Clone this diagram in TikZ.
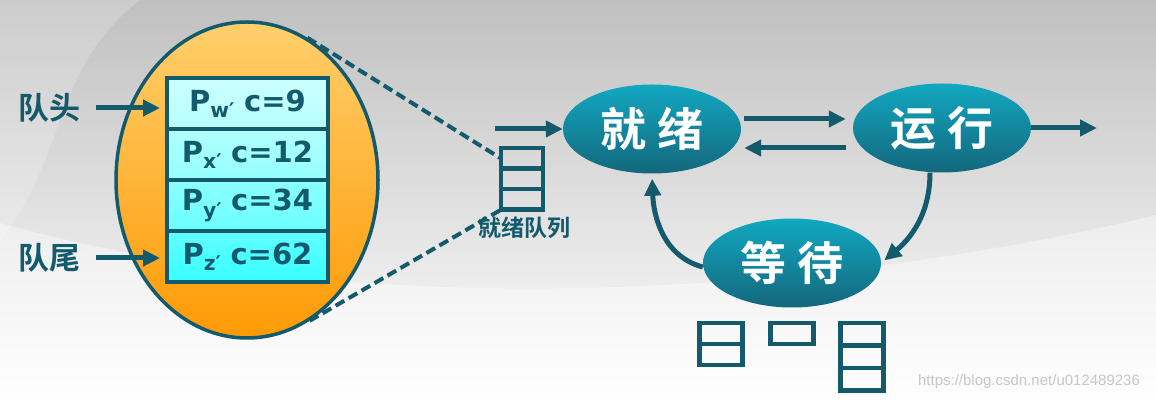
\documentclass[tikz,border=0pt]{standalone}
\usepackage{fontspec}
\setmainfont{DejaVu Sans}
\newfontfamily\cjk{Noto Sans CJK SC Bold}
\newfontfamily\urlfont{Liberation Sans}
\usetikzlibrary{arrows.meta, positioning, shapes.geometric}

\definecolor{qline}{HTML}{135B6C}
\definecolor{stateTop}{HTML}{12A8C1}
\definecolor{stateBot}{HTML}{13677C}
\definecolor{poolTop}{HTML}{FFCF6C}
\definecolor{poolBot}{HTML}{FF9A05}
\definecolor{bgTop}{HTML}{C0C0C0}

\tikzset{
  state/.style={ellipse, top color=stateTop, bottom color=stateBot, minimum width=178, minimum height=89, inner sep=0, text=white, font=\cjk\fontsize{46}{46}\selectfont},
  slot/.style={rectangle, draw=qline, line width=4.5, minimum width=161, minimum height=51, inner sep=0, outer sep=0, text=qline, font=\bfseries\fontsize{29}{29}\selectfont},
  cell/.style={rectangle, draw=qline, line width=4.5, minimum width=43, minimum height=21, inner sep=0, outer sep=0},
  flow/.style={draw=qline, line width=5, -{Triangle[length=17, width=16]}},
  tag/.style={text=qline, font=\cjk\fontsize{31}{31}\selectfont},
}

\begin{document}
\begin{tikzpicture}[x=1pt, y=1pt]
  \useasboundingbox (0,0) rectangle (1156,401);
  % background
  \shade[top color=bgTop, bottom color=white] (0,0) rectangle (1156,401);
  \fill[white, opacity=0.4] (0,178) .. controls (350,80) and (800,100) .. (1156,186) -- (1156,0) -- (0,0) -- cycle;
  \fill[white, opacity=0.2] (0,401) -- (140,401) .. controls (50,330) and (70,250) .. (0,160) -- cycle;

  % process pool with queue
  \node[ellipse, draw=qline, line width=3.5, top color=poolTop, bottom color=poolBot, minimum width=262, minimum height=316] (pool) at (247,221) {};
  \node[slot, top color=cyan!20, bottom color=cyan!28] (pw) at (247.5,297.5) {P\textsubscript{w′}\hspace{9pt}c=9};
  \node[slot, top color=cyan!30, bottom color=cyan!42, below=0pt of pw] (px) {P\textsubscript{x′}\hspace{9pt}c=12};
  \node[slot, top color=cyan!45, bottom color=cyan!58, below=0pt of px] (py) {P\textsubscript{y′}\hspace{9pt}c=34};
  \node[slot, top color=cyan!62, bottom color=cyan!78, below=0pt of py] (pz) {P\textsubscript{z′}\hspace{9pt}c=62};

  % head and tail
  \node[tag] (head) at (49,293) {队头};
  \node[tag] (tail) at (49,143) {队尾};
  \draw[flow, shorten <=12pt, shorten >=7pt] (head.east) -- (head.east -| pw.west);
  \draw[flow, shorten <=12pt, shorten >=7pt] (tail.east) -- (tail.east -| pz.west);

  % small ready queue
  \node[cell, minimum width=42, minimum height=20.5] (q1) at (522,242.5) {};
  \node[cell, minimum width=42, minimum height=20.5, below=0pt of q1] (q2) {};
  \node[cell, minimum width=42, minimum height=20.5, below=0pt of q2] (q3) {};
  \node[text=qline, font=\cjk\fontsize{23}{23}\selectfont] (qname) at (524.5,173) {就绪队列};
  \draw[qline, line width=4, dash pattern=on 10pt off 5pt] (pool.67) -- (q1.west);
  \draw[qline, line width=4, dash pattern=on 10pt off 5pt] (pool.-66) -- (q3.south west);

  % states
  \node[state] (ready) at (652,272) {就\hspace{12pt}绪};
  \node[state] (run) at (942,273) {运\hspace{12pt}行};
  \node[state] (wait) at (792,138) {等\hspace{12pt}待};

  \coordinate (enter) at (495,272);
  \coordinate (leave) at (1097,273);
  \draw[flow] (enter) -- (ready.west);
  \draw[flow] (run.east) -- (leave);
  \draw[flow] ([xshift=3pt, yshift=10pt]ready.east) -- ([xshift=-7pt, yshift=9pt]run.west);
  \draw[flow] ([xshift=-7pt, yshift=-20pt]run.west) -- ([xshift=3pt, yshift=-19pt]ready.east);
  \draw[flow, shorten >=4pt] ([xshift=-12pt]run.south) to[out=-90, in=40] (wait.east);
  \draw[flow, shorten >=5pt] ([yshift=-4pt]wait.west) to[out=165, in=-88] (ready.south);

  % waiting queues
  \node[cell] (a1) at (721,67.5) {};
  \node[cell, below=0pt of a1] (a2) {};
  \node[cell] (b1) at (792,67.5) {};
  \node[cell, minimum height=22.5] (c1) at (862,66.75) {};
  \node[cell, minimum height=22.5, below=0pt of c1] (c2) {};
  \node[cell, minimum height=22.5, below=0pt of c2] (c3) {};

  \node[text=gray!45, font=\urlfont\fontsize{15}{15}\selectfont] (url) at (1029,19) {https://blog.csdn.net/u012489236};
\end{tikzpicture}
\end{document}
